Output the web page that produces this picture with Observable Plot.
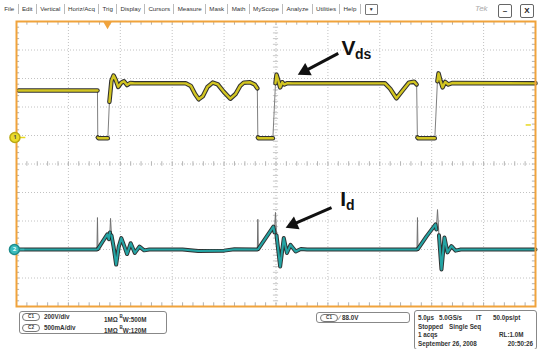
<!DOCTYPE html>
<html><head><meta charset="utf-8">
<script src="https://cdn.jsdelivr.net/npm/d3@7"></script>
<script src="https://cdn.jsdelivr.net/npm/@observablehq/plot@0.6"></script>
<style>
body{margin:0;background:#fff;width:538px;height:349px;overflow:hidden;position:relative;font-family:"Liberation Sans",Arial,sans-serif;}
#chart{position:absolute;left:0;top:0;}
#menu{position:absolute;left:1px;top:4px;height:10px;display:flex;align-items:center;font-size:6.2px;color:#333;}
#menu span.it{padding:0 3.3px;border-right:1px solid #bbb;line-height:10px;}
#menu span.dd{margin-left:4px;width:11px;height:9px;border:1px solid #777;border-radius:1px;font-size:5px;text-align:center;line-height:9px;}
.abs{position:absolute;white-space:nowrap;}
.box{position:absolute;border:1px solid #888;border-radius:3px;background:#fff;}
.tx{position:absolute;white-space:nowrap;font-size:6.3px;font-weight:bold;color:#333;line-height:8px;}
.pill{position:absolute;width:16px;height:6px;border:1px solid #777;border-radius:4px;font-size:4.6px;line-height:6px;text-align:center;color:#333;font-weight:bold;}
.wbtn{position:absolute;top:4px;width:12px;height:12px;border:1px solid #666;border-radius:2px;font-size:8px;text-align:center;line-height:12px;color:#222;font-weight:bold;}
</style></head><body>
<div id="chart"></div>
<div id="menu"></div>
<div class="abs" style="left:475px;top:4px;font-size:8px;color:#aaa;font-style:italic;">Tek</div>
<div class="wbtn" style="left:498px;">–</div>
<div class="wbtn" style="left:520px;">X</div>
<div id="info"></div>
<script>
// ---- data ----
const menuItems = ["File","Edit","Vertical","Horiz/Acq","Trig","Display","Cursors","Measure","Mask","Math","MyScope","Analyze","Utilities","Help"];

// Channel 1 : Vds (volts) vs time (µs)
const vdsT = [0.2,7.8,7.83,7.9,8.8,8.95,9.15,9.35,9.55,9.8,10.1,10.35,10.65,10.95,11.4,16.3,16.8,17.2,17.55,17.95,18.4,18.9,19.4,19.95,20.6,21.1,21.55,21.9,22.5,22.95,23.2,23.25,23.3,24.7,24.8,24.95,25.05,25.2,25.4,25.6,25.8,26.1,26.6,35.5,36.0,36.6,37.2,37.8,38.3,38.55,38.62,38.7,40.3,40.4,40.55,40.66,40.85,41.05,41.3,41.6,41.95,50];
const vdsV = [330,330,0,-5,-5,250,400,435,405,355,385,395,368,382,380,380,362,305,268,290,355,385,372,322,272,305,362,385,388,372,345,0,-5,-5,150,380,440,405,352,388,372,381,380,380,342,275,330,385,392,372,0,-5,-5,150,395,450,398,352,390,372,382,380];

// Channel 2 : Id (mA) vs time (µs)
const idT = [0.2,7.75,7.8,7.85,8.3,8.75,8.9,9.0,9.06,9.15,9.35,9.6,9.85,10.1,10.4,10.65,11.0,11.4,11.85,12.3,12.8,16.0,17.5,20.0,21.0,23.2,23.25,23.3,24.0,24.75,24.85,24.95,25.05,25.4,25.75,26.05,26.4,26.9,27.4,28.0,38.58,38.63,38.68,39.5,40.37,40.45,40.56,40.7,40.94,41.23,41.52,41.9,42.3,42.8,50];
const idA = [0,0,560,10,140,265,180,300,545,250,50,-265,50,200,50,-80,110,-60,50,-15,0,0,-25,-20,5,0,530,10,200,400,300,650,250,-300,200,-60,80,-35,10,0,0,560,10,230,440,350,700,250,-350,210,-50,60,-20,0,0];

// scope settings
const timePerDiv = 5;          // µs/div
const ch1VoltsPerDiv = 200;    // V/div
const ch2mAPerDiv = 500;       // mA/div
const ch1Pos = 0.93;           // divisions
const ch2Pos = -3.0;           // divisions
const trigTime = 8.77;         // µs
const trigLevel = 88;          // V

// annotations
const annoMain = ["V","I"];
const annoSub = ["ds","d"];
const annoT = [31.3, 31.2];
const annoY = [3.81, -1.49];
const annoSubT = [32.6, 31.75];
const annoSubY = [3.70, -1.63];
const arrowFromT = [31.0, 30.35];
const arrowFromY = [3.88, -1.53];
const arrowToT = [27.36, 26.2];
const arrowToY = [3.18, -2.19];

// ---- derived ----
const W = 538, H = 349, mT = 21, mB = 43, mL = 16, mR = 3;
const yV = v => v / ch1VoltsPerDiv + ch1Pos;
const yI = a => a / ch2mAPerDiv + ch2Pos;
const vds = vdsT.map((t,i)=>({t, y:yV(vdsV[i])}));
const id = idT.map((t,i)=>({t, y:yI(idA[i])}));
function bands(rows, thr){
  const out=[]; let seg=0, open=false;
  for(let i=0;i<rows.length-1;i++){
    const a=rows[i], b=rows[i+1];
    const steep = Math.abs(b.y-a.y)/(b.t-a.t) > thr;
    if(steep){seg++; open=false; continue;}
    if(!open){out.push({...a,seg}); open=true;}
    out.push({...b,seg});
  }
  return out;
}
const vdsBand = bands(vds, 5);
const idBand = bands(id, 6);

const tMax = 10*timePerDiv;
const divX = d3.range(0, 11).map(i=>i*timePerDiv);
const divY = d3.range(-5, 6);
const minX = d3.range(0, tMax+0.001, timePerDiv/5);
const minY = d3.range(-5, 5.001, 0.2);
const pxT = (W-mL-mR)/tMax, pxY = (H-mT-mB)/10;
const annos = annoMain.map((m,i)=>{
  const dxp = (arrowToT[i]-arrowFromT[i])*pxT, dyp = -(arrowToY[i]-arrowFromY[i])*pxY;
  const len = Math.hypot(dxp,dyp), ux = dxp/len, uy = dyp/len;
  const back = 5; // px, triangle centre behind tip
  return {m, s:annoSub[i], t:annoT[i], y:annoY[i], st:annoSubT[i], sy:annoSubY[i],
    x1:arrowFromT[i], y1:arrowFromY[i],
    x2:arrowToT[i]-ux*8/pxT, y2:arrowToY[i]+uy*8/pxY,
    hx:arrowToT[i]-ux*back/pxT, hy:arrowToY[i]+uy*back/pxY,
    rot: Math.atan2(ux, -uy)*180/Math.PI};
});

const orange = "#f0a33c", yellow = "#d2c521", teal = "#24a4a4", grid = "#c2c2c2";

const plot = Plot.plot({
  width:W, height:H,
  marginTop:mT, marginBottom:mB, marginLeft:mL, marginRight:mR,
  x:{domain:[0,tMax], axis:null},
  y:{domain:[-5,5], axis:null},
  style:{background:"transparent", overflow:"visible"},
  marks:[
    Plot.ruleX(divX.slice(1,-1), {stroke:grid, strokeDasharray:"1,2"}),
    Plot.ruleY(divY.slice(1,-1), {stroke:grid, strokeDasharray:"1,2"}),
    // center-line minor ticks
    Plot.ruleX(minX, {y1:-0.08, y2:0.08, stroke:"#b5b5b5"}),
    Plot.ruleY(minY, {x1:tMax/2-0.25, x2:tMax/2+0.25, stroke:"#c8c8c8"}),
    // edge minor ticks
    Plot.ruleX(minX, {y1:5, y2:4.87, stroke:"#b0b0b0"}),
    Plot.ruleX(minX, {y1:-5, y2:-4.87, stroke:"#b0b0b0"}),
    Plot.ruleY(minY, {x1:0, x2:0.3, stroke:"#b0b0b0"}),
    Plot.ruleY(minY, {x1:tMax-0.3, x2:tMax, stroke:"#b0b0b0"}),
    // Vds trace
    Plot.line(vds, {x:"t", y:"y", stroke:"#808080", strokeWidth:1}),
    Plot.line(vdsBand, {x:"t", y:"y", z:"seg", stroke:"#1b1b1b", strokeWidth:4.5, strokeOpacity:0.9}),
    Plot.line(vdsBand, {x:"t", y:"y", z:"seg", stroke:yellow, strokeWidth:2.4}),
    // Id trace
    Plot.line(id, {x:"t", y:"y", stroke:"#707070", strokeWidth:1}),
    Plot.line(idBand, {x:"t", y:"y", z:"seg", stroke:"#1b1b1b", strokeWidth:4, strokeOpacity:0.9}),
    Plot.line(idBand, {x:"t", y:"y", z:"seg", stroke:teal, strokeWidth:2.1}),
    // annotations
    Plot.link(annos, {x1:"x1", y1:"y1", x2:"x2", y2:"y2", stroke:"#111", strokeWidth:3}),
    Plot.dot(annos, {x:"hx", y:"hy", symbol:"triangle", rotate:"rot", r:5.2, fill:"#111", stroke:null}),
    Plot.text(annos, {x:"t", y:"y", text:"m", textAnchor:"start", lineAnchor:"bottom", fontSize:21, fontWeight:"bold", fill:"#111", fontFamily:"Liberation Sans"}),
    Plot.text(annos, {x:"st", y:"sy", text:"s", textAnchor:"start", lineAnchor:"bottom", fontSize:14, fontWeight:"bold", fill:"#111", fontFamily:"Liberation Sans"}),
    // trigger level marker (right)
    Plot.ruleY([yV(trigLevel)], {x1:tMax-0.9, x2:tMax-0.4, stroke:"#e8d820", strokeWidth:1.5}),
    Plot.frame({stroke:orange, strokeWidth:2}),
    // trigger position marker
    Plot.dot([trigTime], {x:d=>d, y:5, symbol:"triangle", rotate:180, r:3.3, fill:orange, stroke:null, dy:2.5}),
    // channel ground markers
    Plot.ruleY([ch1Pos], {x1:0, x2:0.9, stroke:"#e8d820", strokeWidth:1.5}),
    Plot.ruleY([ch2Pos], {x1:0, x2:0.8, stroke:"#3ab8b8", strokeWidth:1.5}),
    Plot.dot([ch1Pos], {x:-0.15, y:d=>d, r:5, fill:"#ecdc2a", stroke:"#b8a814"}),
    Plot.dot([ch2Pos], {x:-0.2, y:d=>d, r:5, fill:"#3cbcbc", stroke:"#1e8c8c"}),
    Plot.text(["1"], {x:-0.15, y:ch1Pos, text:d=>d, fontSize:6, fill:"#555", fontWeight:"bold"}),
    Plot.text(["2"], {x:-0.2, y:ch2Pos, text:d=>d, fontSize:6, fill:"#e8ffff", fontWeight:"bold"})
  ]
});
document.getElementById("chart").append(plot);

// menu bar
const menu = document.getElementById("menu");
menuItems.forEach(m=>{const s=document.createElement("span"); s.className="it"; s.textContent=m; menu.append(s);});
const dd=document.createElement("span"); dd.className="dd"; dd.textContent="▼"; menu.append(dd);

// info panels
const info = document.getElementById("info");
function box(l,t,w,h){const b=document.createElement("div"); b.className="box"; Object.assign(b.style,{left:l+"px",top:t+"px",width:w+"px",height:h+"px"}); info.append(b); return b;}
function tx(parent,html,l,t,right){const s=document.createElement("div"); s.className="tx"; s.innerHTML=html; s.style.top=(t-4)+"px"; if(right) s.style.right=l+"px"; else s.style.left=l+"px"; parent.append(s); return s;}
function pill(parent,label,l,t){const p=document.createElement("div"); p.className="pill"; p.textContent=label; p.style.left=l+"px"; p.style.top=(t-4)+"px"; parent.append(p);}
const bw = "<span style='font-size:4.5px;vertical-align:4px'>B</span>W:";
const b1 = box(19,311,146,21);
pill(b1,"C1",2,5); tx(b1,"200V/div",24,5); tx(b1,"1MΩ "+bw+"500M",84,5);
pill(b1,"C2",2,16); tx(b1,"500mA/div",24,16); tx(b1,"1MΩ "+bw+"120M",84,16);
const b2 = box(316,312,92,9);
pill(b2,"C1",3,4.5); tx(b2,"<span style='font-weight:normal;font-size:7px'>∕</span> 88.0V",22,4.5);
const b3 = box(414,310,121,38);
tx(b3,"5.0µs",3,7); tx(b3,"5.0GS/s",24,7); tx(b3,"IT",61,7); tx(b3,"50.0ps/pt",78,7);
tx(b3,"Stopped",3,16); tx(b3,"Single Seq",34,16);
tx(b3,"1 acqs",3,24); tx(b3,"RL:1.0M",84,24);
tx(b3,"September 26, 2008",3,33); tx(b3,"20:50:26",3,33,true);
</script>
</body></html>
